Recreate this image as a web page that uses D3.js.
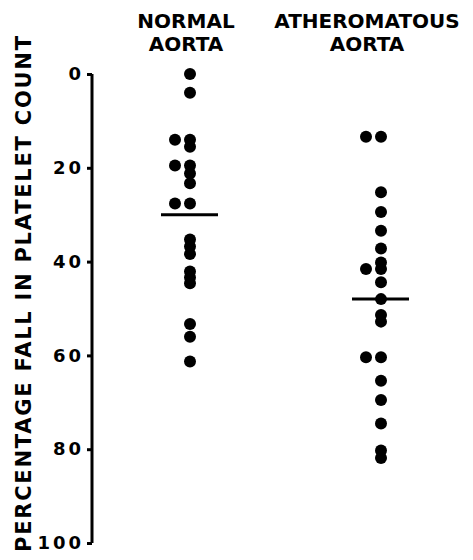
<!DOCTYPE html>
<meta charset="utf-8">
<style>
  body { margin: 0; background: #fff; }
  text { font-family: "DejaVu Sans", sans-serif; font-weight: bold; fill: #000; }
</style>
<script src="https://d3js.org/d3.v7.min.js"></script>
<div id="chart"></div>
<script>

// groups and readings (percentage fall in platelet count)
const groups = ["NORMAL AORTA", "ATHEROMATOUS AORTA"];
const normal = [0, 4, 14, 14, 15.5, 19.5, 19.5, 21.2, 23.3, 27.6, 27.6,
                35.3, 36.8, 38.4, 42.1, 43.4, 44.6, 53.3, 56, 61.3];
const atheromatous = [13.4, 13.4, 25.2, 29.4, 33.4, 37.2, 40.2, 41.6, 41.6,
                      44.4, 48, 51.4, 52.8, 60.4, 60.4, 65.4, 69.5, 74.5, 80.3, 81.9];
const means = [30, 48];
const yTicks = [0, 20, 40, 60, 80, 100];

const W = 473, H = 560;
const svg = d3.select("#chart").append("svg")
    .attr("width", W)
    .attr("height", H);

const y = d3.scaleLinear().domain([0, 100]).range([74, 543]);
const x = d3.scalePoint().domain(groups).range([190, 381]);

// y axis
const yAxis = svg.append("g")
    .attr("transform", "translate(92,0)")
    .call(d3.axisLeft(y).tickValues(yTicks).tickSize(5).tickPadding(3));
yAxis.select(".domain")
    .attr("d", `M0,${y(0)}V${y(100)}`)
    .attr("stroke-width", 3);
yAxis.selectAll(".tick line").attr("stroke-width", 3);
yAxis.selectAll(".tick text")
    .style("font-size", "18px")
    .style("letter-spacing", "3px")
    .attr("font-family", null)
    .attr("font-size", null);

// axis title
svg.append("text")
    .attr("transform", "translate(31,294) rotate(-90)")
    .attr("text-anchor", "middle")
    .attr("textLength", 516)
    .attr("lengthAdjust", "spacing")
    .style("font-size", "21px")
    .text("PERCENTAGE FALL IN PLATELET COUNT");

// column headers
const headerShift = [-4, -14];
groups.forEach((g, i) => {
  const words = g.split(" ");
  const t = svg.append("text")
      .attr("text-anchor", "middle")
      .style("font-size", "20px");
  t.append("tspan").attr("x", x(g) + headerShift[i]).attr("y", 28).text(words[0]);
  t.append("tspan").attr("x", x(g) + headerShift[i]).attr("y", 51).text(words[1]);
});

// dots: equal readings sit side by side, extra ones to the left
const r = 6;
[normal, atheromatous].forEach((vals, i) => {
  const seen = {};
  const pts = vals.map(v => {
    const k = seen[v] || 0;
    seen[v] = k + 1;
    return {v: v, slot: k};
  });
  svg.append("g").selectAll("circle")
    .data(pts)
    .join("circle")
      .attr("cx", d => x(groups[i]) - d.slot * (2 * r + 3))
      .attr("cy", d => y(d.v))
      .attr("r", r)
      .attr("fill", "#000");
});

// mean bars
svg.append("g").selectAll("line")
  .data(means)
  .join("line")
    .attr("x1", (d, i) => x(groups[i]) - 29)
    .attr("x2", (d, i) => x(groups[i]) + 28)
    .attr("y1", d => y(d))
    .attr("y2", d => y(d))
    .attr("stroke", "#000")
    .attr("stroke-width", 3);

</script>
